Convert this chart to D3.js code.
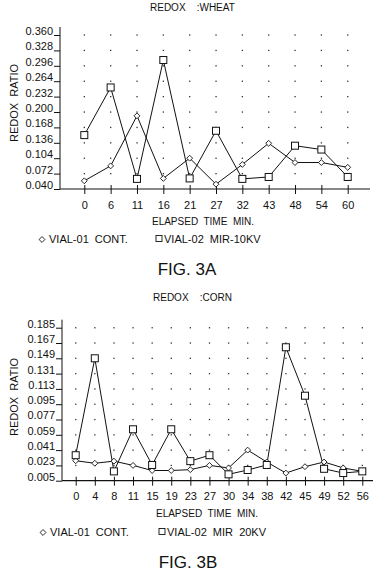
<!DOCTYPE html>
<html>
<head>
<meta charset="utf-8">
<script src="https://cdn.jsdelivr.net/npm/d3@7"></script>
<style>
  html, body { margin: 0; padding: 0; background: #fff; }
  svg { display: block; font-family: "Liberation Sans", Arial, Helvetica, sans-serif; }
  text { white-space: pre; fill: #111; }
</style>
</head>
<body>
<svg id="chart" width="377" height="575"></svg>
<script>
// ---------- DATA ----------
// Fig. 3A: Redox : Wheat
const wheatTimes = ["0", "6", "11", "16", "21", "27", "32", "43", "48", "54", "60"];
const wheatVial01 = [0.057, 0.088, 0.192, 0.062, 0.104, 0.050, 0.091, 0.135, 0.095, 0.095, 0.085];
const wheatVial02 = [0.152, 0.251, 0.061, 0.308, 0.062, 0.161, 0.061, 0.065, 0.130, 0.122, 0.065];
const wheatYTicks = [0.040, 0.072, 0.104, 0.136, 0.168, 0.200, 0.232, 0.264, 0.296, 0.328, 0.360];

// Fig. 3B: Redox : Corn
const cornTimes = ["0", "4", "8", "11", "15", "19", "23", "27", "30", "34", "38", "42", "45", "49", "52", "56"];
const cornVial01 = [0.0285, 0.0255, 0.028, 0.023, 0.017, 0.017, 0.018, 0.023, 0.020, 0.041, 0.027, 0.014, 0.0215, 0.027, 0.020, 0.016];
const cornVial02 = [0.035, 0.149, 0.016, 0.0655, 0.0235, 0.0655, 0.028, 0.035, 0.0125, 0.0176, 0.0235, 0.162, 0.105, 0.019, 0.014, 0.016];
const cornYTicks = [0.005, 0.023, 0.041, 0.059, 0.077, 0.095, 0.113, 0.131, 0.149, 0.167, 0.185];

const svg = d3.select("#chart");
const fmt = d3.format(".3f");

function drawPanel(cfg) {
  const g = svg.append("g");
  const x = d3.scalePoint().domain(cfg.cats).range(cfg.xRange);
  const y = d3.scaleLinear().domain([cfg.yTicks[0], cfg.yTicks[cfg.yTicks.length - 1]]).range(cfg.yRange);
  const y0 = cfg.yRange[0];

  // dotted grid
  const dots = [];
  cfg.cats.forEach(c => cfg.yTicks.slice(1).forEach(t => dots.push([x(c), y(t)])));
  g.append("g").selectAll("rect").data(dots).join("rect")
    .attr("x", d => d[0] - 0.6).attr("y", d => d[1] - 0.6)
    .attr("width", 1.3).attr("height", 1.3).attr("fill", "#333");

  // y axis
  const ya = g.append("g").attr("transform", `translate(${cfg.axisX},0)`)
    .call(d3.axisLeft(y).tickValues(cfg.yTicks).tickFormat(fmt).tickSize(6).tickPadding(1));
  ya.select(".domain").remove();
  ya.selectAll(".tick line").attr("stroke", "#111");
  ya.selectAll(".tick text").attr("font-size", 11).attr("dy", "-0.05em").attr("fill", "#111")
    .attr("font-family", "'Liberation Sans', Arial, sans-serif");
  g.append("line").attr("x1", cfg.axisX).attr("x2", cfg.axisX)
    .attr("y1", y(cfg.yTicks[cfg.yTicks.length - 1]) - 8).attr("y2", y0)
    .attr("stroke", "#111").attr("stroke-width", 1);

  // x axis
  g.append("line").attr("x1", cfg.axisX).attr("x2", cfg.axisEnd)
    .attr("y1", y0).attr("y2", y0).attr("stroke", "#111").attr("stroke-width", 1.2);
  const xa = g.append("g").attr("transform", `translate(0,${y0})`)
    .call(d3.axisBottom(x).tickSize(5).tickPadding(7));
  xa.select(".domain").remove();
  xa.selectAll(".tick line").attr("y1", -4).attr("y2", 5).attr("stroke", "#111");
  xa.selectAll(".tick text").attr("font-size", 11).attr("fill", "#111")
    .attr("font-family", "'Liberation Sans', Arial, sans-serif");

  // lines
  const line = d3.line().x((d, i) => x(cfg.cats[i])).y(d => y(d));
  g.append("path").datum(cfg.s1).attr("d", line).attr("fill", "none").attr("stroke", "#111").attr("stroke-width", 1);
  g.append("path").datum(cfg.s2).attr("d", line).attr("fill", "none").attr("stroke", "#111").attr("stroke-width", 1);

  // markers
  const dia = d3.symbol().type(d3.symbolDiamond2).size(22);
  g.append("g").selectAll("path").data(cfg.s1).join("path")
    .attr("d", dia).attr("transform", (d, i) => `translate(${x(cfg.cats[i])},${y(d)})`)
    .attr("fill", "#fff").attr("stroke", "#111").attr("stroke-width", 0.9);
  g.append("g").selectAll("rect").data(cfg.s2).join("rect")
    .attr("x", (d, i) => x(cfg.cats[i]) - 3.5).attr("y", d => y(d) - 3.5)
    .attr("width", 7).attr("height", 7)
    .attr("fill", "#fff").attr("stroke", "#111").attr("stroke-width", 1);

  // titles
  g.append("text").attr("x", cfg.titleX).attr("y", cfg.titleY).attr("font-size", 10).text(cfg.title);
  g.append("text").attr("transform", `translate(18,${cfg.ylabY}) rotate(-90)`)
    .attr("text-anchor", "middle").attr("font-size", 11).text("REDOX  RATIO");
  g.append("text").attr("x", cfg.xlabX).attr("y", cfg.xlabY).attr("text-anchor", "middle")
    .attr("font-size", 10).text("ELAPSED  TIME  MIN.");

  // legend
  g.append("path").attr("d", dia).attr("transform", `translate(${cfg.legX1},${cfg.legY - 3.5})`)
    .attr("fill", "#fff").attr("stroke", "#111").attr("stroke-width", 0.9);
  g.append("text").attr("x", cfg.legX1 + 7).attr("y", cfg.legY).attr("font-size", 11).text(cfg.leg1);
  g.append("rect").attr("x", cfg.legX2 - 3).attr("y", cfg.legY - 7.5).attr("width", 6).attr("height", 6)
    .attr("fill", "#fff").attr("stroke", "#111").attr("stroke-width", 0.9);
  g.append("text").attr("x", cfg.legX2 + 5).attr("y", cfg.legY).attr("font-size", 11).text(cfg.leg2);

  g.append("text").attr("x", cfg.figX).attr("y", cfg.figY).attr("text-anchor", "middle")
    .attr("font-size", 17).text(cfg.fig);
}

drawPanel({
  cats: wheatTimes, s1: wheatVial01, s2: wheatVial02, yTicks: wheatYTicks,
  xRange: [84.3, 347.7], yRange: [189, 35], axisX: 60, axisEnd: 370,
  title: "REDOX    :WHEAT", titleX: 150, titleY: 11,
  ylabY: 103, xlabX: 203, xlabY: 225,
  legX1: 42, legX2: 159, legY: 243,
  leg1: "VIAL-01  CONT.", leg2: "VIAL-02  MIR-10KV",
  fig: "FIG. 3A", figX: 187, figY: 275
});

drawPanel({
  cats: cornTimes, s1: cornVial01, s2: cornVial02, yTicks: cornYTicks,
  xRange: [75.7, 362.3], yRange: [480.7, 327.7], axisX: 62, axisEnd: 373,
  title: "REDOX    :CORN", titleX: 153, titleY: 301,
  ylabY: 397, xlabX: 207, xlabY: 517,
  legX1: 43, legX2: 162, legY: 536,
  leg1: "VIAL-01  CONT.", leg2: "VIAL-02  MIR  20KV",
  fig: "FIG. 3B", figX: 188, figY: 568
});
</script>
</body>
</html>
